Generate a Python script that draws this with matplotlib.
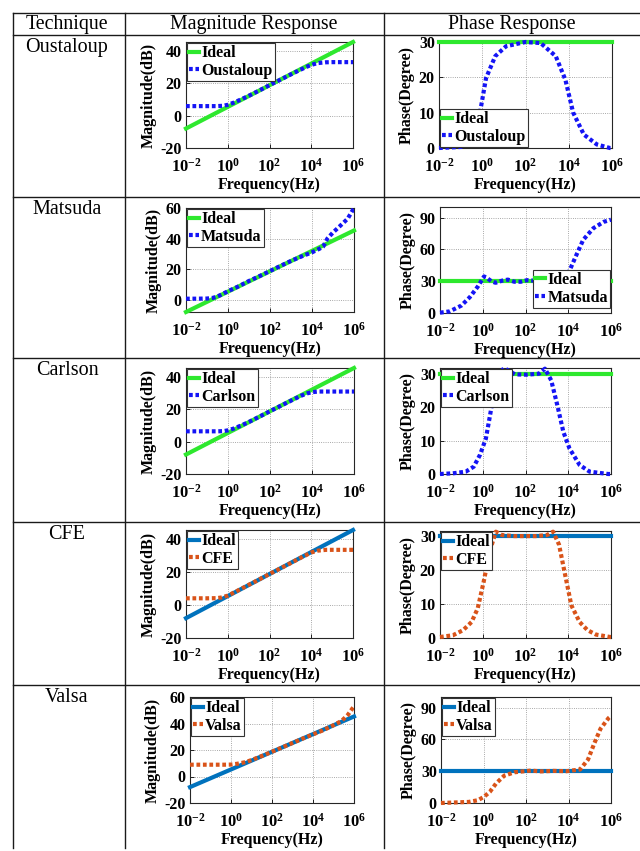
import matplotlib
matplotlib.use('Agg')
import matplotlib.pyplot as plt

plt.rcParams['font.family'] = 'Liberation Serif'
plt.rcParams['mathtext.fontset'] = 'custom'
plt.rcParams['mathtext.rm'] = 'Liberation Serif:bold'
plt.rcParams['mathtext.bf'] = 'Liberation Serif:bold'
plt.rcParams['axes.unicode_minus'] = False

# table text
headers = ['Technique', 'Magnitude Response', 'Phase Response']
techniques = ['Oustaloup', 'Matsuda', 'Carlson', 'CFE', 'Valsa']

# ideal fractional-order response (alpha = 1/3)
ideal_f = [1e-2, 1e6]
ideal_mag = [-8.0, 45.3]
ideal_phase = [30, 30]

# Oustaloup
oust_mag_f = [0.01, 0.03, 0.1, 0.3, 0.6, 1, 2, 5, 10, 30, 100, 300, 1000, 3000, 6000, 1e4, 2e4, 5e4, 1e5, 1e6]
oust_mag = [5.8, 5.8, 5.8, 5.8, 6.0, 6.6, 8.0, 10.3, 12.1, 15.2, 18.7, 21.8, 25.2, 28.2, 30.0, 31.2, 32.3, 32.8, 32.9, 32.9]
oust_ph_f = [0.01, 0.1, 0.3, 0.5, 0.78, 1.5, 4, 12.6, 100, 500, 2500, 7000, 1.6e4, 5e4, 2e5, 8e5, 1e6]
oust_ph = [0.0, 0.3, 1.5, 4.0, 9.9, 19.8, 26.0, 28.8, 30.0, 29.7, 26.0, 19.3, 10.0, 3.8, 1.0, 0.0, 0.0]

# Matsuda
mats_mag_f = [0.01, 0.03, 0.1, 0.2, 0.4, 1, 3, 10, 30, 100, 300, 1000, 3000, 1e4, 2.3e4, 3.4e4, 5.4e4, 1e5, 2e5, 5e5, 1e6]
mats_mag = [0.7, 0.7, 0.8, 1.3, 2.8, 5.6, 8.6, 12.3, 15.3, 18.8, 22.0, 25.4, 28.2, 31.0, 33.4, 34.8, 40.0, 44.0, 47.8, 53.0, 60.0]
mats_ph_f = [0.01, 0.028, 0.1, 0.25, 0.59, 1.15, 1.6, 2.5, 4, 8, 15, 30, 60, 120, 250, 500, 1000, 3000, 6000, 1.15e4, 2.2e4, 5e4, 1.5e5, 4.6e5, 1e6]
mats_ph = [0.3, 1.5, 7.0, 15.0, 25.0, 34.5, 33.0, 30.0, 28.5, 30.5, 31.5, 29.5, 29.5, 31.0, 30.5, 29.5, 30.0, 30.5, 33.0, 40.0, 53.0, 69.0, 80.0, 86.0, 88.0]

# Carlson
carl_mag_f = [0.01, 0.1, 0.3, 0.6, 1, 2, 5, 10, 30, 100, 300, 1000, 3000, 6000, 1e4, 2e4, 1e6]
carl_mag = [6.3, 6.3, 6.3, 6.4, 6.9, 8.1, 10.3, 12.1, 15.2, 18.7, 21.8, 25.2, 28.2, 29.7, 30.4, 30.8, 30.8]
carl_ph_f = [0.01, 0.04, 0.16, 0.38, 0.74, 1.4, 2.2, 3.4, 5.2, 10, 32, 115, 430, 810, 1600, 3100, 5900, 1.15e4, 3.4e4, 1e5, 7.4e5, 1e6]
carl_ph = [0.0, 0.2, 0.7, 2.2, 5.7, 10.6, 17.6, 24.5, 29.5, 31.7, 29.8, 29.7, 30.0, 31.5, 28.0, 20.5, 12.6, 7.6, 2.7, 0.7, 0.0, 0.0]

# CFE
cfe_mag_f = [0.01, 0.1, 0.3, 0.5, 1, 2, 5, 10, 30, 100, 300, 1000, 3000, 6000, 1e4, 2e4, 5e4, 1e6]
cfe_mag = [4.0, 4.0, 4.1, 4.5, 5.6, 7.5, 10.1, 12.1, 15.2, 18.7, 21.8, 25.2, 28.4, 30.3, 31.7, 32.8, 33.3, 33.3]
cfe_ph_f = [0.01, 0.04, 0.12, 0.3, 0.58, 1.1, 2.1, 4.1, 8, 30, 100, 300, 1000, 1950, 3700, 7200, 1.4e4, 3.4e4, 8e4, 2e5, 9e5, 1e6]
cfe_ph = [0.3, 0.8, 2.3, 4.7, 8.7, 16.5, 25.4, 31.3, 30.3, 30.0, 30.0, 30.0, 30.3, 31.3, 27.5, 18.5, 9.6, 4.7, 2.3, 1.0, 0.3, 0.3]

# Valsa
vals_mag_f = [0.01, 0.1, 0.5, 1, 2, 5, 10, 30, 100, 300, 1000, 3000, 1e4, 3e4, 1e5, 2.5e5, 5e5, 1e6]
vals_mag = [8.9, 8.9, 8.9, 9.0, 9.6, 10.8, 12.4, 15.3, 18.7, 21.8, 25.3, 28.5, 31.8, 34.8, 38.7, 42.0, 46.5, 53.0]
vals_ph_f = [0.01, 0.2, 0.54, 1.05, 2, 4, 9.5, 29, 170, 500, 2000, 8000, 3.5e4, 8.3e4, 1.6e5, 3.2e5, 7.6e5, 1e6]
vals_ph = [0.0, 1.0, 2.6, 5.8, 10.6, 18.7, 25.8, 29.0, 30.6, 29.8, 30.3, 30.0, 31.6, 41.0, 55.8, 70.0, 80.0, 82.0]

mag_data = [(oust_mag_f, oust_mag), (mats_mag_f, mats_mag), (carl_mag_f, carl_mag),
            (cfe_mag_f, cfe_mag), (vals_mag_f, vals_mag)]
ph_data = [(oust_ph_f, oust_ph), (mats_ph_f, mats_ph), (carl_ph_f, carl_ph),
           (cfe_ph_f, cfe_ph), (vals_ph_f, vals_ph)]

mag_ylims = [(-20, 45.3), (-8, 60), (-20, 45.3), (-20, 45.3), (-20, 60)]
mag_yticks = [[-20, 0, 20, 40], [0, 20, 40, 60], [-20, 0, 20, 40], [-20, 0, 20, 40], [-20, 0, 20, 40, 60]]
ph_ylims = [(0, 30), (0, 100), (0, 31.7), (0, 31.5), (0, 100)]
ph_yticks = [[0, 10, 20, 30], [0, 30, 60, 90], [0, 10, 20, 30], [0, 10, 20, 30], [0, 30, 60, 90]]

# layout in pixels (left, top, right, bottom)
mag_boxes = [(186, 42, 353, 148), (186, 208, 354, 312), (186, 368, 354, 474),
             (186, 530, 353, 638), (190, 697, 354, 803)]
ph_boxes = [(439, 42, 612, 148), (440, 207, 611, 313), (440, 368, 611, 474),
            (440, 531, 611, 638), (441, 697, 611, 803)]
row_lines = [13, 35, 197, 358, 522, 685]
col_lines = [13, 125, 384]

W, H = 640, 851
fig = plt.figure(figsize=(W / 100, H / 100), dpi=100)

bg = fig.add_axes([0, 0, 1, 1])
bg.set_xlim(0, W)
bg.set_ylim(H, 0)
bg.axis('off')
for y in row_lines:
    bg.plot([13, W], [y, y], color='0.1', lw=1.0)
for x in col_lines:
    bg.plot([x, x], [13, 848], color='0.1', lw=1.0)
for x, txt in zip([67, 254, 512], headers):
    bg.text(x, 24, txt, ha='center', va='center', fontsize=14.3)
for i, name in enumerate(techniques):
    bg.text(67, row_lines[i + 1] + 12.5, name, ha='center', va='center', fontsize=14.5)

FS = 11.5
xticks = [1e-2, 1e0, 1e2, 1e4, 1e6]
xlabels = [r'$\mathbf{10^{-2}}$', r'$\mathbf{10^{0}}$', r'$\mathbf{10^{2}}$',
           r'$\mathbf{10^{4}}$', r'$\mathbf{10^{6}}$']
dots = (0, (0.9, 0.65))


def make_axes(box):
    l, t, r, b = box
    return fig.add_axes([l / W, 1 - b / H, (r - l) / W, (b - t) / H])


def style(ax, ylim, yticks, ylabel):
    ax.set_xscale('log')
    ax.set_xlim(1e-2, 1e6)
    ax.set_ylim(*ylim)
    ax.set_xticks(xticks)
    ax.set_xticklabels(xlabels, fontsize=FS + 0.5)
    ax.set_yticks(yticks)
    ax.set_yticklabels([str(v) for v in yticks], fontsize=FS, fontweight='bold')
    ax.tick_params(direction='in', length=3, width=0.6, pad=3)
    ax.tick_params(axis='x', pad=7)
    ax.tick_params(which='minor', direction='in', length=1.5, width=0.4)
    ax.grid(which='major', ls=':', color='0.55', lw=0.6)
    ax.grid(which='minor', axis='x', ls=':', color='0.88', lw=0.5)
    ax.set_axisbelow(True)
    for s in ax.spines.values():
        s.set_linewidth(0.8)
        s.set_color('0.15')
    ax.set_xlabel('Frequency(Hz)', fontsize=FS, fontweight='bold', labelpad=1)
    ax.set_ylabel(ylabel, fontsize=FS, fontweight='bold', labelpad=3)


def add_legend(ax, loc, anchor=None):
    kw = dict(loc=loc, handlelength=0.6, handletextpad=0.15,
              borderpad=0.15, labelspacing=0.1, borderaxespad=0.05,
              fancybox=False, framealpha=1, edgecolor='0.2')
    if anchor is not None:
        kw['bbox_to_anchor'] = anchor
    leg = ax.legend(prop={'weight': 'bold', 'size': FS}, **kw)
    leg.get_frame().set_linewidth(0.8)


ph_locs = ['lower left', 'lower right', 'upper left', 'upper left', 'upper left']
ph_anchors = [None, (1, 0.04), None, None, None]

for i, name in enumerate(techniques):
    if i < 3:
        c_ideal, c_approx = '#2ee82e', '#1414f5'
    else:
        c_ideal, c_approx = '#0072BD', '#D95319'

    ax = make_axes(mag_boxes[i])
    ax.plot(ideal_f, ideal_mag, color=c_ideal, lw=3, label='Ideal', clip_on=False, zorder=3)
    ax.plot(*mag_data[i], color=c_approx, lw=3, ls=dots, label=name, zorder=4)
    style(ax, mag_ylims[i], mag_yticks[i], 'Magnitude(dB)')
    add_legend(ax, 'upper left')

    ax = make_axes(ph_boxes[i])
    ax.plot(ideal_f, ideal_phase, color=c_ideal, lw=3, label='Ideal', clip_on=False, zorder=3)
    ax.plot(*ph_data[i], color=c_approx, lw=3, ls=dots, label=name, zorder=4, clip_on=False)
    style(ax, ph_ylims[i], ph_yticks[i], 'Phase(Degree)')
    add_legend(ax, ph_locs[i], ph_anchors[i])

fig.savefig('out.png', dpi=100)
